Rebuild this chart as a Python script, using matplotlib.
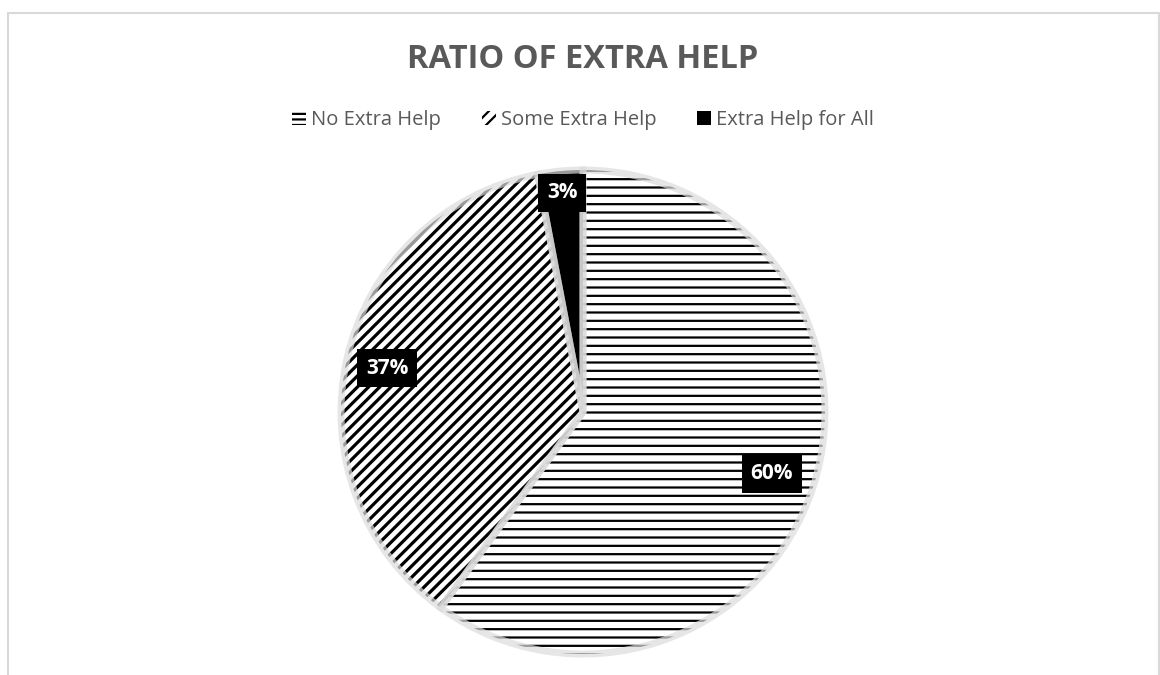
import matplotlib.pyplot as plt
from matplotlib.patches import Patch, Rectangle
import numpy as np

plt.rcParams['font.family'] = ['Open Sans', 'DejaVu Sans']
plt.rcParams['hatch.linewidth'] = 1.6

labels = ['No Extra Help', 'Some Extra Help', 'Extra Help for All']
shares = [60, 37, 3]
hatches = ['--', '///', '']
hatch_widths = [1.6, 2.3, 1.0]
fills = ['white', 'white', 'black']
label_dist = [0.82, 0.83, 0.91]

fig = plt.figure(figsize=(11.6, 6.75), dpi=100)

# light frame round the chart area
fig.patches.append(Rectangle((8 / 1160, -0.05), 1151 / 1160, 1.05 - 13 / 675,
                             transform=fig.transFigure, fill=False,
                             edgecolor='#d9d9d9', linewidth=1.5))

fig.text(0.5026, 1 - 59 / 675, 'RATIO OF EXTRA HELP', ha='center', va='center',
         fontsize=23.5, fontweight='bold', color='#595959')

cx, cy, r = 583, 412, 242
ax = fig.add_axes([(cx - r) / 1160, (675 - cy - r) / 675, 2 * r / 1160, 2 * r / 675])

wedges, _ = ax.pie(shares, startangle=90, counterclock=False, colors=fills,
                   wedgeprops=dict(edgecolor='black', linewidth=0))
for w, h, hw in zip(wedges, hatches, hatch_widths):
    w.set_hatch(h)
    if hasattr(w, 'set_hatch_linewidth'):
        w.set_hatch_linewidth(hw)

# soft grey rim drawn over the hatching
rims, _ = ax.pie(shares, startangle=90, counterclock=False,
                 wedgeprops=dict(fill=False, edgecolor='#dcdcdc', linewidth=5, alpha=0.7))

for w, d, v in zip(wedges, label_dist, shares):
    ang = np.deg2rad((w.theta1 + w.theta2) / 2)
    ax.text(d * np.cos(ang), d * np.sin(ang), f'{v}%', ha='center', va='center',
            fontsize=15, fontweight='bold', color='white',
            bbox=dict(boxstyle='square,pad=0.42', facecolor='black', edgecolor='none'))

ax.set_xlim(-1, 1)
ax.set_ylim(-1, 1)
ax.axis('off')

handles = [Patch(facecolor=f, edgecolor='black', hatch=h, linewidth=0)
           for f, h in zip(fills, ['---', '///', ''])]
fig.legend(handles, labels, loc='center', bbox_to_anchor=(0.5026, 1 - 120 / 675),
           ncol=3, frameon=False, fontsize=14.5, labelcolor='#595959',
           handlelength=0.7, handleheight=0.7, handletextpad=0.25, columnspacing=2.0)

fig.savefig('out.png', dpi=100)
